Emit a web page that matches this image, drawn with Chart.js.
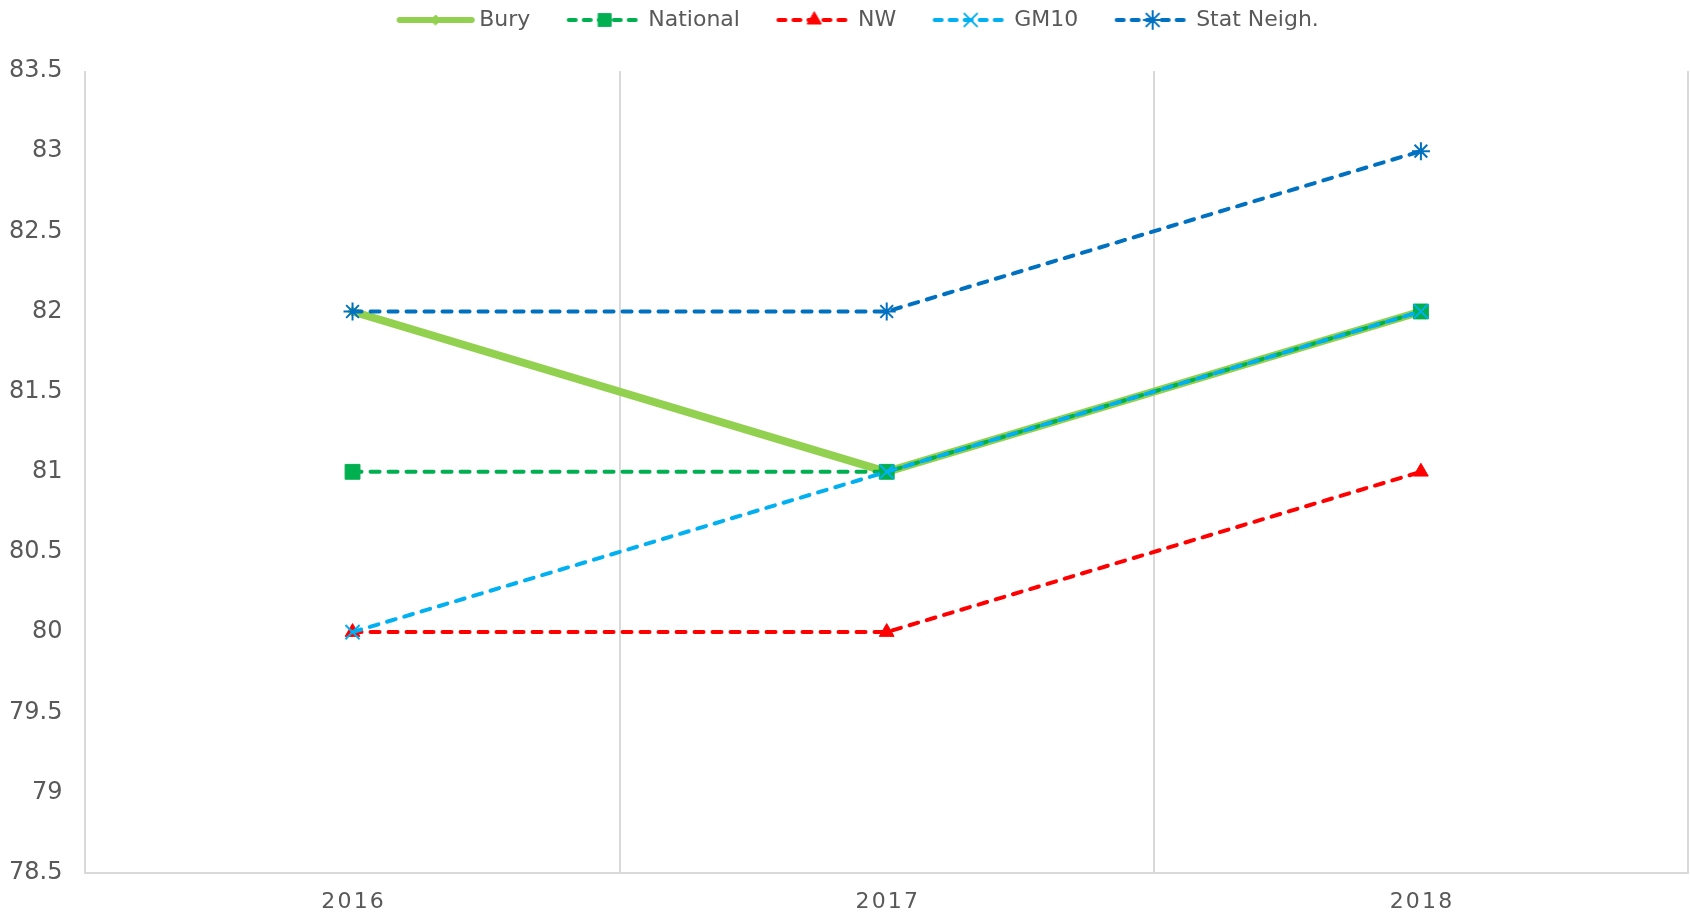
<!DOCTYPE html>
<html>
<head>
<meta charset="utf-8">
<script src="https://cdn.jsdelivr.net/npm/chart.js@4.4.1/dist/chart.umd.min.js"></script>
<style>
  html, body { margin: 0; padding: 0; background: #fff; }
  #wrap { width: 1690px; height: 917px; }
</style>
</head>
<body>
<div id="wrap"><canvas id="chart" width="1690" height="917"></canvas></div>
<script>
// data
const years = ['2016', '2017', '2018'];
const bury = [82, 81, 82];
const national = [81, 81, 82];
const nw = [80, 80, 81];
const gm10 = [80, 81, 82];
const statNeigh = [82, 82, 83];
const yTickValues = [78.5, 79, 79.5, 80, 80.5, 81, 81.5, 82, 82.5, 83, 83.5];

const textColor = '#595959';
const gridColor = '#D9D9D9';
const dash = [9, 9];

// legend sample: line + marker drawn into a small canvas
function legendSample(color, width, dashed, pointStyle, radius, borderWidth) {
  const boxW = 97;
  const c = document.createElement('canvas');
  c.width = boxW + 15;
  c.height = 26;
  const ctx = c.getContext('2d');
  const x0 = c.width - 76, x1 = c.width - 4, y = 13;
  ctx.strokeStyle = color;
  ctx.fillStyle = color;
  ctx.lineWidth = width;
  ctx.lineCap = 'round';
  ctx.setLineDash(dashed ? [7, 8] : []);
  ctx.beginPath();
  ctx.moveTo(x0, y);
  ctx.lineTo(x1, y);
  ctx.stroke();
  ctx.setLineDash([]);
  ctx.lineWidth = borderWidth;
  Chart.helpers.drawPoint(ctx, { pointStyle, radius, rotation: 0, borderWidth }, (x0 + x1) / 2, y);
  return c;
}

const datasets = [
  { label: 'Bury', data: bury, borderColor: '#92D050', backgroundColor: '#92D050',
    borderWidth: 8, pointStyle: 'rectRot', pointRadius: 5, pointBorderWidth: 1, order: 5,
    legendImg: legendSample('#92D050', 6, false, 'rectRot', 5, 1) },
  { label: 'National', data: national, borderColor: '#00B050', backgroundColor: '#00B050',
    borderWidth: 4, borderDash: dash, borderCapStyle: 'round', pointStyle: 'rect', pointRadius: 10.5, pointBorderWidth: 1, order: 4,
    legendImg: legendSample('#00B050', 4, true, 'rect', 9, 1) },
  { label: 'NW', data: nw, borderColor: '#FF0000', backgroundColor: '#FF0000',
    borderWidth: 4, borderDash: dash, borderCapStyle: 'round', pointStyle: 'triangle', pointRadius: 8.5, pointBorderWidth: 1, order: 3,
    legendImg: legendSample('#FF0000', 4, true, 'triangle', 8, 1) },
  { label: 'GM10', data: gm10, borderColor: '#00B0F0', backgroundColor: '#00B0F0',
    borderWidth: 4, borderDash: dash, borderCapStyle: 'round', pointStyle: 'crossRot', pointRadius: 10, pointBorderWidth: 2, order: 2,
    legendImg: legendSample('#00B0F0', 4, true, 'crossRot', 9, 2) },
  { label: 'Stat Neigh.', data: statNeigh, borderColor: '#0070C0', backgroundColor: '#0070C0',
    borderWidth: 4, borderDash: dash, borderCapStyle: 'round', pointStyle: 'star', pointRadius: 9, pointBorderWidth: 2, order: 1,
    legendImg: legendSample('#0070C0', 4, true, 'star', 9, 2) }
];

// extra room between legend and plot, legend nudged right a bit
const legendGap = {
  id: 'legendGap',
  beforeLayout(chart) {
    const lg = chart.legend;
    if (lg && !lg._gapPatched) {
      const fit = lg.fit;
      const draw = lg.draw;
      lg.fit = function () { fit.call(this); this.height += 30; };
      lg.draw = function () {
        this.ctx.save();
        this.ctx.translate(8, 0);
        draw.call(this);
        this.ctx.restore();
      };
      lg._gapPatched = true;
    }
  }
};

new Chart(document.getElementById('chart'), {
  type: 'line',
  data: { labels: years, datasets },
  plugins: [legendGap],
  options: {
    responsive: false,
    animation: false,
    devicePixelRatio: 1,
    layout: { autoPadding: false, padding: { top: -1, left: -14, right: 2, bottom: -14 } },
    elements: { line: { tension: 0 } },
    plugins: {
      tooltip: { enabled: false },
      legend: {
        position: 'top',
        labels: {
          usePointStyle: true,
          pointStyleWidth: 97,
          boxHeight: 22,
          padding: 10,
          color: textColor,
          font: { family: 'DejaVu Sans', size: 22 },
          sort: (a, b) => a.datasetIndex - b.datasetIndex,
          generateLabels(chart) {
            const items = Chart.defaults.plugins.legend.labels.generateLabels(chart);
            items.forEach(it => { it.pointStyle = chart.data.datasets[it.datasetIndex].legendImg; });
            return items;
          }
        }
      }
    },
    scales: {
      x: {
        offset: true,
        grid: { offset: true, color: gridColor, lineWidth: 2, drawTicks: false },
        border: { color: gridColor, width: 2 },
        ticks: {
          color: textColor,
          padding: 16,
          font: { family: 'DejaVu Sans', size: 22 },
          callback: (v, i) => years[i].split('').join('\u200A')
        }
      },
      y: {
        min: 78.5,
        max: 83.5,
        grid: { display: false, drawTicks: false },
        border: { display: false },
        afterBuildTicks: scale => { scale.ticks = yTickValues.map(v => ({ value: v })); },
        ticks: {
          color: textColor,
          padding: 23,
          font: { family: 'DejaVu Sans', size: 24 },
          callback: v => String(v)
        }
      }
    }
  }
});
</script>
</body>
</html>
